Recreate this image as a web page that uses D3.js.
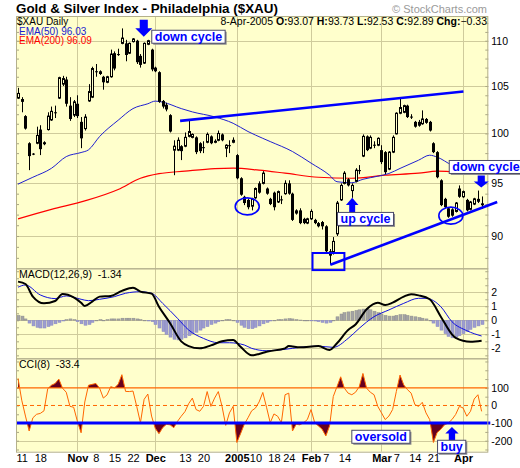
<!DOCTYPE html>
<html>
<head>
<meta charset="utf-8">
<script src="https://cdn.jsdelivr.net/npm/d3@7"></script>
<style>
  body { margin: 0; background: #fff; }
  svg { display: block; }
  svg text { font-family: "Liberation Sans", Arial, sans-serif; white-space: pre; }
</style>
</head>
<body>
<div id="chart"></div>
<script>
// trading days on the chart (Oct 8 2004 .. Apr 8 2005)
const dates = [
  '2004-10-08',
  '2004-10-11','2004-10-12','2004-10-13','2004-10-14','2004-10-15',
  '2004-10-18','2004-10-19','2004-10-20','2004-10-21','2004-10-22',
  '2004-10-25','2004-10-26','2004-10-27','2004-10-28','2004-10-29',
  '2004-11-01','2004-11-02','2004-11-03','2004-11-04','2004-11-05',
  '2004-11-08','2004-11-09','2004-11-10','2004-11-11','2004-11-12',
  '2004-11-15','2004-11-16','2004-11-17','2004-11-18','2004-11-19',
  '2004-11-22','2004-11-23','2004-11-24','2004-11-26',
  '2004-11-29','2004-11-30',
  '2004-12-01','2004-12-02','2004-12-03',
  '2004-12-06','2004-12-07','2004-12-08','2004-12-09','2004-12-10',
  '2004-12-13','2004-12-14','2004-12-15','2004-12-16','2004-12-17',
  '2004-12-20','2004-12-21','2004-12-22','2004-12-23',
  '2004-12-27','2004-12-28','2004-12-29','2004-12-30','2004-12-31',
  '2005-01-03','2005-01-04','2005-01-05','2005-01-06','2005-01-07',
  '2005-01-10','2005-01-11','2005-01-12','2005-01-13','2005-01-14',
  '2005-01-18','2005-01-19','2005-01-20','2005-01-21',
  '2005-01-24','2005-01-25','2005-01-26','2005-01-27','2005-01-28',
  '2005-01-31',
  '2005-02-01','2005-02-02','2005-02-03','2005-02-04',
  '2005-02-07','2005-02-08','2005-02-09','2005-02-10','2005-02-11',
  '2005-02-14','2005-02-15','2005-02-16','2005-02-17','2005-02-18',
  '2005-02-22','2005-02-23','2005-02-24','2005-02-25',
  '2005-02-28',
  '2005-03-01','2005-03-02','2005-03-03','2005-03-04',
  '2005-03-07','2005-03-08','2005-03-09','2005-03-10','2005-03-11',
  '2005-03-14','2005-03-15','2005-03-16','2005-03-17','2005-03-18',
  '2005-03-21','2005-03-22','2005-03-23','2005-03-24',
  '2005-03-28','2005-03-29','2005-03-30','2005-03-31',
  '2005-04-01',
  '2005-04-04','2005-04-05','2005-04-06','2005-04-07','2005-04-08'
];

const opens = [
  103.7,103.6,101.8,99.0,97.95,99.0,100.4,99.1,100.4,101.4,
  102.2,103.7,105.2,105.7,102.9,101.9,103.1,101.2,100.5,103.4,
  103.8,106.6,106.6,106.0,105.4,106.0,108.6,108.5,109.7,109.7,
  108.6,109.9,110.0,108.3,107.5,109.6,109.0,107.0,106.5,103.4,
  103.0,101.9,98.3,98.3,98.7,98.7,99.7,99.6,99.6,99.0,
  98.6,99.1,99.7,99.1,99.3,99.9,98.5,98.8,99.1,97.8,
  95.5,93.7,93.4,92.8,93.6,95.0,95.0,94.5,93.5,94.1,
  93.2,93.45,94.0,95.0,94.0,92.4,92.4,91.6,91.2,91.6,
  91.5,91.2,91.3,90.9,88.6,88.5,90.2,93.4,95.0,95.4,
  94.3,95.2,96.3,97.7,99.7,98.5,98.85,98.8,98.3,98.1,
  96.4,98.1,99.96,102.1,102.2,102.9,101.75,101.2,101.2,101.0,
  101.5,101.2,99.0,98.1,95.3,93.5,92.6,92.5,92.3,94.5,
  93.7,93.4,92.5,93.0,93.5,93.07
];
const highs = [
  104.8,103.8,101.9,99.1,98.0,100.7,100.85,99.2,102.2,102.8,
  102.9,106.0,106.1,106.0,103.8,103.5,104.0,101.7,102.0,105.2,
  107.1,107.4,106.7,106.1,106.1,109.0,108.8,109.1,111.4,110.1,
  109.8,110.3,110.1,108.5,109.8,110.1,109.1,107.1,106.6,103.5,
  103.2,102.0,99.3,99.6,98.8,100.1,101.4,100.0,99.7,99.1,
  99.2,100.1,99.8,99.4,100.3,100.0,98.9,99.3,99.6,97.9,
  95.6,93.8,93.5,93.6,94.6,95.2,96.2,94.6,93.6,94.2,
  94.3,93.8,95.3,95.3,94.1,92.5,92.6,91.7,91.7,92.5,
  91.6,91.3,91.4,91.0,88.8,89.9,93.3,95.0,96.2,95.5,
  95.0,96.5,96.8,99.9,99.8,99.8,99.2,99.6,98.8,98.2,
  98.2,99.8,102.2,103.7,103.0,103.0,102.0,101.3,101.4,102.4,
  101.6,101.3,99.1,98.2,95.4,93.6,92.7,92.6,93.2,94.8,
  94.3,93.5,93.3,93.6,94.3,93.73
];
const lows = [
  103.6,102.2,100.4,96.3,97.8,98.9,97.8,98.8,100.3,101.3,
  101.6,103.6,105.0,102.8,101.3,101.7,101.6,98.5,100.3,103.3,
  103.7,106.0,106.2,104.6,105.3,105.9,106.7,108.3,109.6,107.7,
  108.5,109.8,107.4,107.0,107.4,109.5,106.6,106.5,103.2,102.6,
  102.3,100.1,95.8,98.2,97.3,98.6,99.6,99.5,97.9,98.0,
  98.0,99.0,98.9,99.0,99.2,99.2,97.6,98.0,99.0,95.4,
  93.8,92.9,92.5,92.4,93.5,94.0,94.9,93.9,92.9,92.4,
  93.1,93.0,93.9,93.9,91.4,92.0,91.1,91.1,91.1,91.5,
  91.1,90.8,90.6,88.5,87.4,88.3,90.0,93.3,94.9,94.7,
  93.6,95.1,95.9,97.6,98.2,98.4,98.5,98.7,96.9,95.9,
  96.3,98.0,99.9,102.0,102.1,101.6,101.5,100.6,100.7,100.9,
  101.0,100.2,98.0,95.5,92.8,92.6,91.7,91.8,92.2,93.6,
  93.6,92.3,92.4,92.9,93.1,92.53
];
const closes = [
  104.2,103.3,100.5,97.7,97.9,99.8,98.4,98.9,101.8,102.3,
  102.15,105.9,105.8,103.1,101.5,103.3,101.8,99.5,101.7,104.4,
  106.9,106.5,106.3,105.4,106.0,108.5,106.9,108.45,110.3,108.4,
  109.7,110.2,107.6,107.3,109.7,110.0,106.8,106.6,103.3,102.8,
  102.5,100.2,98.7,99.3,98.2,99.6,100.2,99.9,98.1,98.2,
  98.55,99.9,99.0,99.2,100.0,99.3,98.8,98.75,99.3,95.5,
  93.9,93.1,92.7,93.5,94.5,94.1,96.0,94.0,93.0,92.7,
  94.2,93.4,95.0,94.0,91.5,92.1,91.2,91.2,91.6,92.3,
  91.2,90.9,90.9,88.6,88.2,89.5,93.1,94.8,96.0,94.8,
  94.8,96.3,96.25,99.7,98.3,99.6,98.8,99.5,97.1,96.1,
  98.1,99.6,102.1,102.7,102.9,101.7,101.7,100.7,100.8,101.5,
  101.1,100.3,98.1,95.6,92.9,92.7,91.8,91.9,93.1,93.7,
  94.2,92.4,93.2,93.5,93.22,92.89
];

// moving averages, read at day positions
const ema50Idx  = [0,4,9,13,17,19,22,27,31,35,37,39,44,47,53,58,62,66,68,74,79,84,86,90,93,97,100,103,108,111,113,117,121,125];
const ema50Vals = [94.93,95.6,96.48,97.65,98.06,98.33,99.69,101.37,102.59,103.1,103.38,103.27,102.59,102.24,101.72,101.05,100.2,99.5,99.17,98.16,97.0,95.8,95.16,95.06,95.4,95.7,95.97,96.47,97.29,97.79,97.6,96.8,96.35,96.03];
const ema200Idx  = [0,9,18,27,33,38,45,53,58,65,72,81,90,99,108,113,117,125];
const ema200Vals = [91.6,92.5,93.3,94.4,95.5,95.95,96.2,96.45,96.5,96.3,96.0,95.6,95.5,95.8,96.0,96.2,96.15,96.09];

// MACD(12,26,9)
const macdIdx  = [0,2,4,7,10,12,15,17,18,20,22,25,28,31,33,36,38,41,44,46,49,52,55,58,60,63,65,67,72,73,76,81,84,86,89,91,94,97,99,101,104,106,108,111,114,117,118,122,125];
const macdVals = [2.76,2.59,1.69,1.21,1.38,1.88,1.64,1.26,1.02,1.33,1.69,1.74,2.1,2.33,2.05,1.9,0.97,-0.21,-1.5,-1.84,-2.0,-1.79,-1.5,-1.4,-1.89,-2.5,-2.4,-2.24,-2.0,-1.84,-1.93,-1.84,-2.12,-1.64,-0.69,-0.3,0.79,1.26,1.09,1.26,1.69,1.86,1.78,1.5,0.26,-1.0,-1.25,-1.53,-1.46];
const signalIdx  = [0,2,6,10,13,17,19,22,26,29,33,36,39,43,46,50,54,57,61,63,67,72,76,81,85,89,92,96,100,104,108,110,114,117,121,125];
const signalVals = [2.36,2.52,1.81,1.55,1.74,1.5,1.4,1.5,1.69,1.93,2.04,1.93,1.21,0.14,-0.69,-1.29,-1.6,-1.6,-1.76,-2.0,-2.17,-2.07,-1.93,-1.84,-1.93,-1.29,-0.57,0.26,0.74,1.21,1.57,1.57,0.97,-0.1,-0.74,-1.12];
const histVals = [
  0.35,0.3,0.1,-0.2,-0.4,-0.5,-0.55,-0.55,-0.45,-0.35,
  -0.25,-0.15,-0.05,0.05,0.1,0.05,-0.1,-0.25,-0.35,-0.3,
  -0.15,0.0,0.05,0.0,0.05,0.1,0.1,0.1,0.15,0.15,
  0.15,0.15,0.1,0.05,0.0,-0.05,-0.1,-0.3,-0.55,-0.8,
  -1.0,-1.2,-1.35,-1.4,-1.35,-1.25,-1.1,-0.95,-0.85,-0.7,
  -0.55,-0.45,-0.3,-0.2,-0.1,0.0,0.05,0.05,0.0,-0.15,
  -0.35,-0.5,-0.6,-0.6,-0.5,-0.4,-0.25,-0.15,-0.05,0.0,
  0.05,0.05,0.1,0.12,0.1,0.05,0.02,0.0,0.0,-0.02,
  -0.05,-0.1,-0.15,-0.2,-0.15,0.0,0.25,0.45,0.55,0.6,
  0.65,0.7,0.75,0.8,0.8,0.75,0.65,0.55,0.45,0.35,
  0.3,0.3,0.35,0.4,0.4,0.35,0.3,0.25,0.2,0.15,
  0.1,0.0,-0.2,-0.45,-0.7,-0.95,-1.15,-1.25,-1.2,-1.1,
  -0.95,-0.8,-0.65,-0.5,-0.4,-0.3
];

// CCI(8)
const cciVals = [
  154,30,-60,-145,-70,-50,-45,-30,95,115,
  125,150,98,75,-5,-10,-90,-155,20,115,
  120,125,98,42,60,107,100,120,175,80,
  79,82,-5,-98,35,65,-60,-130,-160,-126,
  -107,-110,-126,-90,-61,-35,10,42,-23,-33,
  -5,79,-5,42,79,-5,-113,-42,-5,-210,
  -160,-107,-70,-30,-15,20,74,-10,-98,-48,
  -61,-98,61,70,-145,-107,-110,-98,-80,-23,
  -98,-116,-135,-173,-116,51,107,163,98,70,
  61,75,107,182,98,75,61,-5,-42,-80,
  -60,-23,79,173,117,90,70,5,-5,18,
  -42,-80,-210,-154,-135,-110,-100,-80,-51,-5,
  -14,-61,-33,37,61,-33.4
];

// axis ticks
const monthStarts = ['2004-11-01','2004-12-01','2005-01-03','2005-02-01','2005-03-01','2005-04-01'];
const xTickDates  = ['2004-10-11','2004-10-18','2004-11-01','2004-11-08','2004-11-15','2004-11-22','2004-12-01','2004-12-13','2004-12-20','2005-01-03','2005-01-10','2005-01-18','2005-01-24','2005-02-01','2005-02-07','2005-02-14','2005-03-01','2005-03-07','2005-03-14','2005-03-21','2005-04-01'];
const xTickLabels = ['11','18','Nov','8','15','22','Dec','13','20','2005','10','18','24','Feb','7','14','Mar','7','14','21','Apr'];
const priceTicks = [90, 95, 100, 105, 110];
const macdTicks = [-2, -1, 0, 1, 2];
const cciTicks = [-200, -100, 0, 100];

// hand drawn notes, in day index / value units
const upperTrend = [[43.7, 101.3], [120.1, 104.4]];
const lowerTrend = [[84.2, 87.38], [129.2, 93.19]];
const lowBox = [[79.4, 88.44], [88.0, 86.9]];
const rings = [[61.8, 92.78], [116.7, 91.9]];
const notes = [
  {text: 'down cycle', i: 33.9, value: 110.45, panel: 'price', arrow: 'down'},
  {text: 'down cycle', i: 124.9, value: 94.6, panel: 'price', arrow: 'down'},
  {text: 'up cycle', i: 90.1, value: 93.6, panel: 'price', arrow: 'up'},
  {text: 'oversold', i: 90.0, value: -176, panel: 'cci', arrow: null},
  {text: 'buy', i: 117.0, value: -122, panel: 'cci', arrow: 'up'}
];

class StockChart {
    constructor(_config) {
        this.config = {
            parentElement: _config.parentElement,
            containerWidth: _config.containerWidth || 520,
            containerHeight: _config.containerHeight || 468,
            left: 16,
            right: 488.3,
            panels: {price: [16, 268.3], macd: [268.3, 358.3], cci: [358.3, 451.7]}
        };
        this.initVis();
    }

    initVis() {
        let vis = this;
        const c = vis.config;

        vis.svg = d3.select(c.parentElement).append('svg')
            .attr('width', c.containerWidth)
            .attr('height', c.containerHeight);

        // one slot per trading day
        vis.xScale = d3.scaleLinear()
            .domain([-0.55, dates.length + 0.8])
            .range([c.left, c.right]);

        vis.yPrice = d3.scaleLog()
            .domain([87.06, 112.83])
            .range([c.panels.price[1], c.panels.price[0]]);

        vis.yMacd = d3.scaleLinear()
            .domain([-2.71, 3.71])
            .range([c.panels.macd[1], c.panels.macd[0]]);

        vis.yCci = d3.scaleLinear()
            .domain([-262.5, 268])
            .range([c.panels.cci[1], c.panels.cci[0]]);

        vis.dayIndex = d => dates.indexOf(d);
        vis.renderVis();
    }

    drawPanel(key, yScale, gridVals, minorVals, labelVals) {
        let vis = this;
        const c = vis.config;
        const [top, bottom] = c.panels[key];
        const g = vis.svg.append('g').attr('class', 'panel-' + key);

        g.append('rect')
            .attr('x', c.left).attr('y', top)
            .attr('width', c.right - c.left).attr('height', bottom - top)
            .attr('fill', '#ffffcc');

        g.selectAll('.hgrid').data(gridVals).join('line')
            .attr('class', 'hgrid')
            .attr('x1', c.left).attr('x2', c.right)
            .attr('y1', d => Math.round(yScale(d)) + 0.5)
            .attr('y2', d => Math.round(yScale(d)) + 0.5)
            .attr('stroke', '#cfcb9c');

        g.selectAll('.vgrid').data(monthStarts).join('line')
            .attr('class', 'vgrid')
            .attr('x1', d => Math.round(vis.xScale(vis.dayIndex(d))) + 0.5)
            .attr('x2', d => Math.round(vis.xScale(vis.dayIndex(d))) + 0.5)
            .attr('y1', top).attr('y2', bottom)
            .attr('stroke', '#cfcb9c');

        // small ticks just inside both borders
        const minorL = d3.axisRight(yScale).tickValues(minorVals).tickSize(3).tickFormat('');
        const minorR = d3.axisLeft(yScale).tickValues(minorVals).tickSize(3).tickFormat('');
        g.append('g').attr('transform', `translate(${c.left},0)`).call(minorL)
            .call(a => a.select('.domain').remove())
            .selectAll('line').attr('stroke', '#a9a685');
        g.append('g').attr('transform', `translate(${c.right},0)`).call(minorR)
            .call(a => a.select('.domain').remove())
            .selectAll('line').attr('stroke', '#a9a685');

        // value labels on the right
        const axis = d3.axisRight(yScale).tickValues(labelVals).tickSize(0).tickPadding(3)
            .tickFormat(d3.format('d'));
        g.append('g').attr('class', 'y-axis')
            .attr('transform', `translate(${c.right},0)`)
            .call(axis)
            .call(a => a.select('.domain').remove())
            .selectAll('text')
            .attr('font-size', 10.5)
            .attr('fill', '#000')
            .style('font-family', '"Liberation Sans", Arial, sans-serif')
            .text(d => String(d));

        vis[key + 'G'] = vis.svg.append('g').attr('class', 'content-' + key);
        return g;
    }

    renderVis() {
        let vis = this;
        const c = vis.config;
        const x = vis.xScale;
        const days = d3.range(dates.length);
        const cx = i => Math.round(x(i)) + 0.5;

        vis.drawPanel('price', vis.yPrice, priceTicks, d3.range(88, 113), priceTicks);
        vis.drawPanel('macd', vis.yMacd, macdTicks, d3.range(-2.5, 3.6, 0.5), macdTicks);
        vis.drawPanel('cci', vis.yCci, [-200], d3.range(-250, 251, 50), cciTicks);

        // ---- price panel ----
        const yP = vis.yPrice;
        const emaLine = d3.line()
            .x(d => x(d[0]))
            .y(d => yP(d[1]))
            .curve(d3.curveMonotoneX);

        vis.priceG.append('path')
            .datum(d3.zip(ema200Idx, ema200Vals))
            .attr('d', emaLine)
            .attr('fill', 'none').attr('stroke', '#ff0000').attr('stroke-width', 1.2);
        vis.priceG.append('path')
            .datum(d3.zip(ema50Idx, ema50Vals))
            .attr('d', emaLine)
            .attr('fill', 'none').attr('stroke', '#2020d0').attr('stroke-width', 1);

        const candles = vis.priceG.selectAll('.candle').data(days).join('g')
            .attr('class', 'candle');
        candles.append('line')
            .attr('x1', cx).attr('x2', cx)
            .attr('y1', i => yP(highs[i])).attr('y2', i => yP(lows[i]))
            .attr('stroke', '#000').attr('stroke-width', 1);
        candles.append('rect')
            .attr('x', i => closes[i] >= opens[i] ? cx(i) - 1 : cx(i) - 1.5)
            .attr('width', i => closes[i] >= opens[i] ? 2 : 3)
            .attr('y', i => yP(Math.max(opens[i], closes[i])))
            .attr('height', i => Math.max(1, Math.abs(yP(opens[i]) - yP(closes[i]))))
            .attr('fill', i => closes[i] >= opens[i] ? '#ffffcc' : '#000')
            .attr('stroke', i => closes[i] >= opens[i] ? '#000' : 'none')
            .attr('stroke-width', 1);

        // ---- MACD panel ----
        const yM = vis.yMacd;
        vis.macdG.selectAll('.hist').data(days).join('rect')
            .attr('class', 'hist')
            .attr('x', i => cx(i) - 1.5)
            .attr('width', 3)
            .attr('y', i => yM(Math.max(0, histVals[i])))
            .attr('height', i => Math.max(0.6, Math.abs(yM(histVals[i]) - yM(0))))
            .attr('fill', i => histVals[i] >= 0 ? '#a4a4a4' : '#9d9dcf')
            .attr('stroke', i => histVals[i] >= 0 ? '#8e8e8e' : '#8a8ac0')
            .attr('stroke-width', 0.5);

        const macdLine = d3.line()
            .x(d => x(d[0]))
            .y(d => yM(d[1]))
            .curve(d3.curveMonotoneX);
        vis.macdG.append('path')
            .datum(d3.zip(signalIdx, signalVals))
            .attr('d', macdLine)
            .attr('fill', 'none').attr('stroke', '#1010e0').attr('stroke-width', 1);
        vis.macdG.append('path')
            .datum(d3.zip(macdIdx, macdVals))
            .attr('d', macdLine)
            .attr('fill', 'none').attr('stroke', '#000').attr('stroke-width', 2);

        // ---- CCI panel ----
        const yC = vis.yCci;
        const [cTop, cBottom] = c.panels.cci;
        const defs = vis.svg.append('defs');
        defs.append('clipPath').attr('id', 'clip-ob').append('rect')
            .attr('x', c.left).attr('y', cTop)
            .attr('width', c.right - c.left).attr('height', yC(100) - cTop);
        defs.append('clipPath').attr('id', 'clip-os').append('rect')
            .attr('x', c.left).attr('y', yC(-100))
            .attr('width', c.right - c.left).attr('height', cBottom - yC(-100));

        vis.cciG.append('path')
            .datum(cciVals)
            .attr('d', d3.area().x((d, i) => x(i)).y0(yC(100)).y1(d => yC(d)))
            .attr('clip-path', 'url(#clip-ob)')
            .attr('fill', '#660020');
        vis.cciG.append('path')
            .datum(cciVals)
            .attr('d', d3.area().x((d, i) => x(i)).y0(yC(-100)).y1(d => yC(d)))
            .attr('clip-path', 'url(#clip-os)')
            .attr('fill', '#660020');

        vis.cciG.append('line')
            .attr('x1', c.left).attr('x2', c.right)
            .attr('y1', yC(100)).attr('y2', yC(100))
            .attr('stroke', '#ff6600').attr('stroke-width', 1.2);
        vis.cciG.append('line')
            .attr('x1', c.left).attr('x2', c.right)
            .attr('y1', yC(0)).attr('y2', yC(0))
            .attr('stroke', '#ff6600').attr('stroke-width', 1)
            .attr('stroke-dasharray', '4,3');

        vis.cciG.append('path')
            .datum(cciVals)
            .attr('d', d3.line().x((d, i) => x(i)).y(d => yC(d)))
            .attr('fill', 'none').attr('stroke', '#ff6600').attr('stroke-width', 1);

        vis.cciG.append('line')
            .attr('x1', c.left).attr('x2', c.right + 2)
            .attr('y1', yC(-100)).attr('y2', yC(-100))
            .attr('stroke', '#0000ff').attr('stroke-width', 3);

        // panel borders on top
        Object.values(c.panels).forEach(([top, bottom]) => {
            vis.svg.append('rect')
                .attr('x', c.left + 0.5).attr('y', top + 0.5)
                .attr('width', c.right - c.left - 1).attr('height', bottom - top)
                .attr('fill', 'none')
                .attr('stroke', '#b4b08c');
        });

        // ---- x axis ----
        const xAxis = d3.axisBottom(x)
            .tickValues(xTickDates.map(vis.dayIndex))
            .tickFormat((d, k) => xTickLabels[k])
            .tickSize(0)
            .tickPadding(2);
        vis.svg.append('g')
            .attr('class', 'axis x-axis')
            .attr('transform', `translate(0,${c.panels.cci[1]})`)
            .call(xAxis)
            .call(a => a.select('.domain').remove())
            .selectAll('text')
            .attr('fill', '#000')
            .attr('font-size', 11)
            .attr('font-weight', (d, k) => /\d/.test(xTickLabels[k]) && xTickLabels[k] !== '2005' ? 'normal' : 'bold')
            .style('font-family', '"Liberation Sans", Arial, sans-serif');

        vis.renderHeader();
        vis.renderNotes();
    }

    renderHeader() {
        let vis = this;
        const n = dates.length - 1;
        const fmt = d3.format('.2f');
        const dateLabel = d3.timeFormat('%-d-%b-%Y')(d3.timeParse('%Y-%m-%d')(dates[n]));

        vis.svg.append('text')
            .attr('x', 16).attr('y', 12.7)
            .attr('font-size', 13.4).attr('font-weight', 'bold')
            .text('Gold & Silver Index - Philadelphia ($XAU)');
        vis.svg.append('text')
            .attr('x', 487).attr('y', 12.7)
            .attr('text-anchor', 'end')
            .attr('font-size', 11).attr('fill', '#9a9a9a')
            .text('\u00A9 StockCharts.com');

        vis.svg.append('text')
            .attr('x', 17).attr('y', 24.8)
            .attr('font-size', 10)
            .text('$XAU Daily');

        const info = vis.svg.append('text')
            .attr('x', 487).attr('y', 24.8)
            .attr('text-anchor', 'end')
            .attr('font-size', 10.5);
        const parts = [
            [dateLabel + ' ', false],
            ['O:', true], [fmt(opens[n]) + ' ', false],
            ['H:', true], [fmt(highs[n]) + ' ', false],
            ['L:', true], [fmt(lows[n]) + ' ', false],
            ['C:', true], [fmt(closes[n]) + ' ', false],
            ['Chg:', true], [fmt(closes[n] - closes[n - 1]), false]
        ];
        parts.forEach(([t, b]) => info.append('tspan')
            .attr('font-weight', b ? 'bold' : 'normal').text(t));

        vis.svg.append('text')
            .attr('x', 19).attr('y', 34.6)
            .attr('font-size', 10).attr('fill', '#2020d0')
            .text(`EMA(50) ${fmt(ema50Vals[ema50Vals.length - 1])}`);
        vis.svg.append('text')
            .attr('x', 19).attr('y', 44.4)
            .attr('font-size', 10).attr('fill', '#ff0000')
            .text(`EMA(200) ${fmt(ema200Vals[ema200Vals.length - 1])}`);

        vis.svg.append('text')
            .attr('x', 19).attr('y', 277.7)
            .attr('font-size', 10.5)
            .text('MACD(12,26,9)  -1.34');
        vis.svg.append('text')
            .attr('x', 19).attr('y', 368.3)
            .attr('font-size', 10.5)
            .text(`CCI(8)  ${cciVals[cciVals.length - 1]}`);
    }

    renderNotes() {
        let vis = this;
        const x = vis.xScale;
        const yP = vis.yPrice;
        const blue = '#0000ff';
        const g = vis.svg.append('g').attr('class', 'notes');

        const trend = d3.line().x(d => x(d[0])).y(d => yP(d[1]));
        [upperTrend, lowerTrend].forEach(t => {
            g.append('path').attr('d', trend(t))
                .attr('stroke', blue).attr('stroke-width', 2.6).attr('fill', 'none');
        });

        g.append('rect')
            .attr('x', x(lowBox[0][0])).attr('y', yP(lowBox[0][1]))
            .attr('width', x(lowBox[1][0]) - x(lowBox[0][0]))
            .attr('height', yP(lowBox[1][1]) - yP(lowBox[0][1]))
            .attr('fill', 'none').attr('stroke', blue).attr('stroke-width', 2);

        g.selectAll('.ring').data(rings).join('ellipse')
            .attr('class', 'ring')
            .attr('cx', d => x(d[0])).attr('cy', d => yP(d[1]))
            .attr('rx', 12).attr('ry', 8.5)
            .attr('fill', 'none').attr('stroke', blue).attr('stroke-width', 1.6);

        // arrow size and label box offset from the arrow tip, px
        const layout = [
            {aw: 17, ah: 17, bx: 8, by: -6.5},
            {aw: 15, ah: 12, bx: -32, by: -27},
            {aw: 12.5, ah: 14.6, bx: -14.7, by: 14.6},
            {aw: 0, ah: 0, bx: 0, by: -6.2},
            {aw: 13.3, ah: 13.3, bx: -14.4, by: 13.3}
        ];
        const arrowPath = (w, h, dir) => {
            const s = dir === 'down' ? -1 : 1;
            const hw = w / 2, sw = w / 4.2, neck = h * 0.5;
            return `M${-sw},${s * h}L${sw},${s * h}L${sw},${s * neck}L${hw},${s * neck}L0,0L${-hw},${s * neck}L${-sw},${s * neck}Z`;
        };

        notes.forEach((d, k) => {
            const yScale = d.panel === 'price' ? yP : vis.yCci;
            const tx = x(d.i), ty = yScale(d.value);
            const L = layout[k];
            if (d.arrow) {
                g.append('path')
                    .attr('transform', `translate(${tx},${ty})`)
                    .attr('d', arrowPath(L.aw, L.ah, d.arrow))
                    .attr('fill', blue);
            }
            const label = g.append('g').attr('transform', `translate(${tx + L.bx},${ty + L.by})`);
            const shadow = label.append('rect');
            const box = label.append('rect');
            const t = label.append('text')
                .attr('x', 3).attr('y', 10.6)
                .attr('font-size', 12.5).attr('font-weight', 'bold')
                .attr('fill', blue)
                .text(d.text);
            const w = t.node().getComputedTextLength() + 6;
            shadow.attr('x', 1.5).attr('y', 1.5).attr('width', w).attr('height', 13)
                .attr('fill', '#8c8c8c');
            box.attr('width', w).attr('height', 13)
                .attr('fill', '#fff').attr('stroke', '#4a4a6a').attr('stroke-width', 1);
        });
    }
}

const chart = new StockChart({parentElement: '#chart'});
</script>
</body>
</html>
